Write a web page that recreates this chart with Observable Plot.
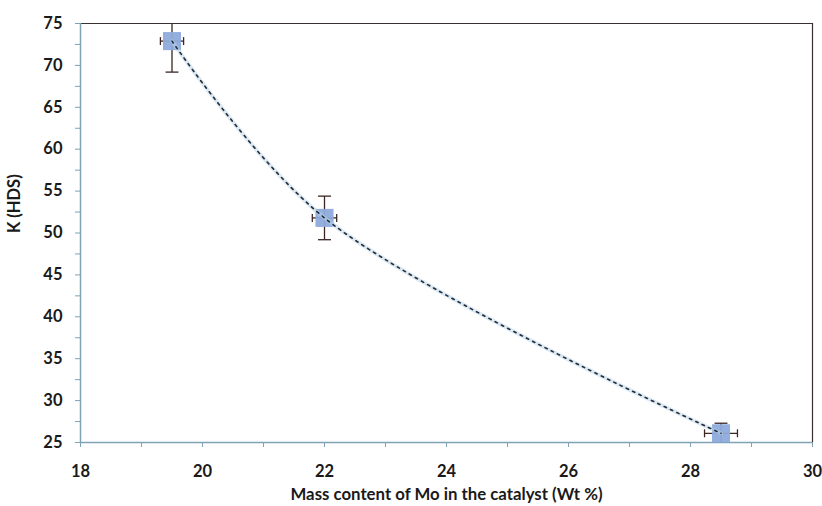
<!DOCTYPE html>
<html>
<head>
<meta charset="utf-8">
<script src="https://cdn.jsdelivr.net/npm/d3@7"></script>
<script src="https://cdn.jsdelivr.net/npm/@observablehq/plot@0.6"></script>
<style>
  html, body { margin: 0; padding: 0; background: #fff; }
  #chart { width: 822px; height: 506px; }
</style>
</head>
<body>
<div id="chart"></div>
<script>
// Data
const moContent = [19.5, 22.0, 28.5];      // Mass content of Mo (Wt %)
const kHDS      = [72.9, 51.8, 26.1];      // K (HDS)
const xError    = [0.19, 0.20, 0.27];      // ± horizontal error
const yError    = [3.7, 2.6, 1.2];         // ± vertical error

const xTicks = [18, 19, 20, 21, 22, 23, 24, 25, 26, 27, 28, 29, 30];
const yTicks = [25, 27.5, 30, 32.5, 35, 37.5, 40, 42.5, 45, 47.5, 50, 52.5, 55, 57.5, 60, 62.5, 65, 67.5, 70, 72.5, 75];

const xLabel = "Mass content of Mo in the catalyst (Wt %)";
const yLabel = "K (HDS)";

const data = moContent.map((x, i) => ({x, y: kHDS[i], ex: xError[i], ey: yError[i]}));

const hBar = {draw(ctx, size) { const r = Math.sqrt(size) / 2; ctx.moveTo(-r, 0); ctx.lineTo(r, 0); }};
const vBar = {draw(ctx, size) { const r = Math.sqrt(size) / 2; ctx.moveTo(0, -r); ctx.lineTo(0, r); }};

const axisBlue = "#7fa2b5";
const errColor = "#3b2624";
const font = "Lato, 'Open Sans', sans-serif";

const chart = Plot.plot({
  width: 822,
  height: 506,
  marginLeft: 80,
  marginRight: 10,
  marginTop: 23,
  marginBottom: 64,
  style: {fontFamily: font, background: "#fff"},
  x: {domain: [18, 30]},
  y: {domain: [25, 75]},
  marks: [
    Plot.axisX({
      ticks: xTicks, tickSize: 5, tickPadding: 18,
      tickFormat: d => (d % 2 === 0 ? String(d) : ""),
      stroke: axisBlue, fill: "#1a1a1a", fontSize: 16.5, fontWeight: "bold",
      label: null
    }),
    Plot.axisY({
      ticks: yTicks, tickSize: 5, tickPadding: 13,
      tickFormat: d => (d % 5 === 0 ? String(d) : ""),
      stroke: axisBlue, fill: "#1a1a1a", fontSize: 16.5, fontWeight: "bold",
      label: null
    }),
    Plot.text([xLabel], {
      frameAnchor: "bottom", dy: 57, text: d => d,
      fontSize: 16.8, fontWeight: "bold", fill: "#1a1a1a"
    }),
    Plot.text([yLabel], {
      frameAnchor: "left", dx: -66, rotate: -90, text: d => d,
      fontSize: 16.5, fontWeight: "bold", fill: "#1a1a1a"
    }),
    Plot.ruleY([75], {stroke: "#3a3030", strokeWidth: 1.2}),
    Plot.ruleX([30], {stroke: "#3a3030", strokeWidth: 1.2}),
    Plot.ruleY([25], {stroke: axisBlue, strokeWidth: 1.5}),
    Plot.ruleX([18], {stroke: axisBlue, strokeWidth: 1.5}),
    // vertical error bars
    Plot.link(data, {x1: "x", x2: "x", y1: d => d.y - d.ey, y2: d => d.y + d.ey, stroke: errColor, strokeWidth: 1.3, clip: true}),
    Plot.dot(data, {x: "x", y: d => d.y - d.ey, symbol: hBar, r: 7.3, stroke: errColor, strokeWidth: 1.3, clip: true}),
    Plot.dot(data, {x: "x", y: d => d.y + d.ey, symbol: hBar, r: 7.3, stroke: errColor, strokeWidth: 1.3, clip: true}),
    // horizontal error bars
    Plot.link(data, {y1: "y", y2: "y", x1: d => d.x - d.ex, x2: d => d.x + d.ex, stroke: errColor, strokeWidth: 1.3, clip: true}),
    Plot.dot(data, {y: "y", x: d => d.x - d.ex, symbol: vBar, r: 4.5, stroke: errColor, strokeWidth: 1.3, clip: true}),
    Plot.dot(data, {y: "y", x: d => d.x + d.ex, symbol: vBar, r: 4.5, stroke: errColor, strokeWidth: 1.3, clip: true}),
    // markers
    Plot.dot(data, {x: "x", y: "y", symbol: "square", r: 10.2, fill: "#8eaadb", fillOpacity: 0.95, stroke: "none"}),
    // smoothed dashed line
    Plot.line(data, {x: "x", y: "y", curve: "catmull-rom", stroke: "#b9d3e6", strokeWidth: 4, strokeOpacity: 0.5}),
    Plot.line(data, {x: "x", y: "y", curve: "catmull-rom", stroke: "#1f2d3d", strokeWidth: 1.6, strokeDasharray: "2.5,4.5"})
  ]
});

document.getElementById("chart").appendChild(chart);
</script>
</body>
</html>
